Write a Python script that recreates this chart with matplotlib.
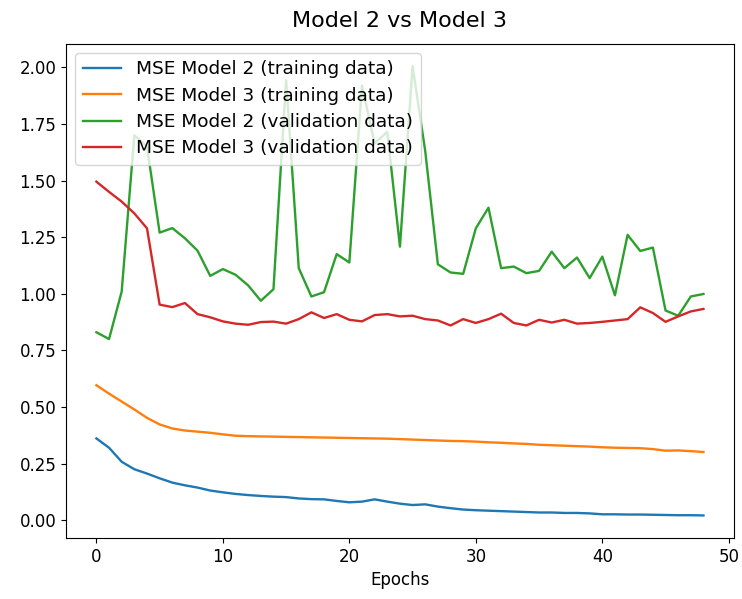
import matplotlib
matplotlib.use('Agg')
import matplotlib.pyplot as plt

epochs = list(range(49))

mse2_train = [0.361, 0.320, 0.258, 0.225, 0.206, 0.185, 0.166, 0.154, 0.144, 0.131,
              0.123, 0.116, 0.111, 0.107, 0.104, 0.102, 0.096, 0.093, 0.092, 0.085,
              0.079, 0.082, 0.092, 0.082, 0.073, 0.067, 0.070, 0.060, 0.053, 0.047,
              0.044, 0.042, 0.040, 0.038, 0.036, 0.034, 0.034, 0.032, 0.032, 0.030,
              0.026, 0.026, 0.025, 0.025, 0.024, 0.023, 0.022, 0.022, 0.021]

mse3_train = [0.596, 0.559, 0.524, 0.489, 0.452, 0.423, 0.405, 0.396, 0.391, 0.386,
              0.379, 0.373, 0.371, 0.370, 0.369, 0.368, 0.367, 0.366, 0.365, 0.364,
              0.363, 0.362, 0.361, 0.360, 0.358, 0.356, 0.354, 0.352, 0.350, 0.349,
              0.347, 0.344, 0.342, 0.339, 0.337, 0.333, 0.331, 0.329, 0.327, 0.325,
              0.322, 0.320, 0.319, 0.318, 0.314, 0.307, 0.308, 0.305, 0.301]

mse2_val = [0.83, 0.80, 1.01, 1.70, 1.65, 1.27, 1.29, 1.245, 1.19, 1.079,
            1.109, 1.084, 1.037, 0.969, 1.02, 1.943, 1.113, 0.988, 1.007, 1.175,
            1.138, 1.92, 1.664, 1.715, 1.208, 2.005, 1.63, 1.13, 1.094, 1.088,
            1.289, 1.38, 1.113, 1.12, 1.091, 1.101, 1.186, 1.113, 1.16, 1.069,
            1.164, 0.993, 1.26, 1.189, 1.204, 0.926, 0.903, 0.988, 0.999]

mse3_val = [1.495, 1.45, 1.407, 1.355, 1.289, 0.952, 0.941, 0.959, 0.91, 0.896,
            0.878, 0.868, 0.863, 0.875, 0.877, 0.868, 0.888, 0.918, 0.893, 0.91,
            0.885, 0.878, 0.906, 0.91, 0.90, 0.903, 0.888, 0.882, 0.86, 0.888,
            0.871, 0.888, 0.912, 0.871, 0.86, 0.885, 0.873, 0.885, 0.868, 0.871,
            0.876, 0.882, 0.888, 0.94, 0.915, 0.876, 0.90, 0.922, 0.933]

fig, ax = plt.subplots(figsize=(7.42, 5.99), dpi=100)
fig.subplots_adjust(left=0.089, right=0.989, top=0.927, bottom=0.102)

ax.plot(epochs, mse2_train, label='MSE Model 2 (training data)', lw=1.7)
ax.plot(epochs, mse3_train, label='MSE Model 3 (training data)', lw=1.7)
ax.plot(epochs, mse2_val, label='MSE Model 2 (validation data)', lw=1.7)
ax.plot(epochs, mse3_val, label='MSE Model 3 (validation data)', lw=1.7)

ax.set_title('Model 2 vs Model 3', fontsize=16, pad=12)
ax.set_xlabel('Epochs', fontsize=12)
ax.tick_params(labelsize=12)
ax.legend(loc='upper left', fontsize=13.3, handlelength=2.1, labelspacing=0.45)

fig.savefig('out.png', dpi=100)
